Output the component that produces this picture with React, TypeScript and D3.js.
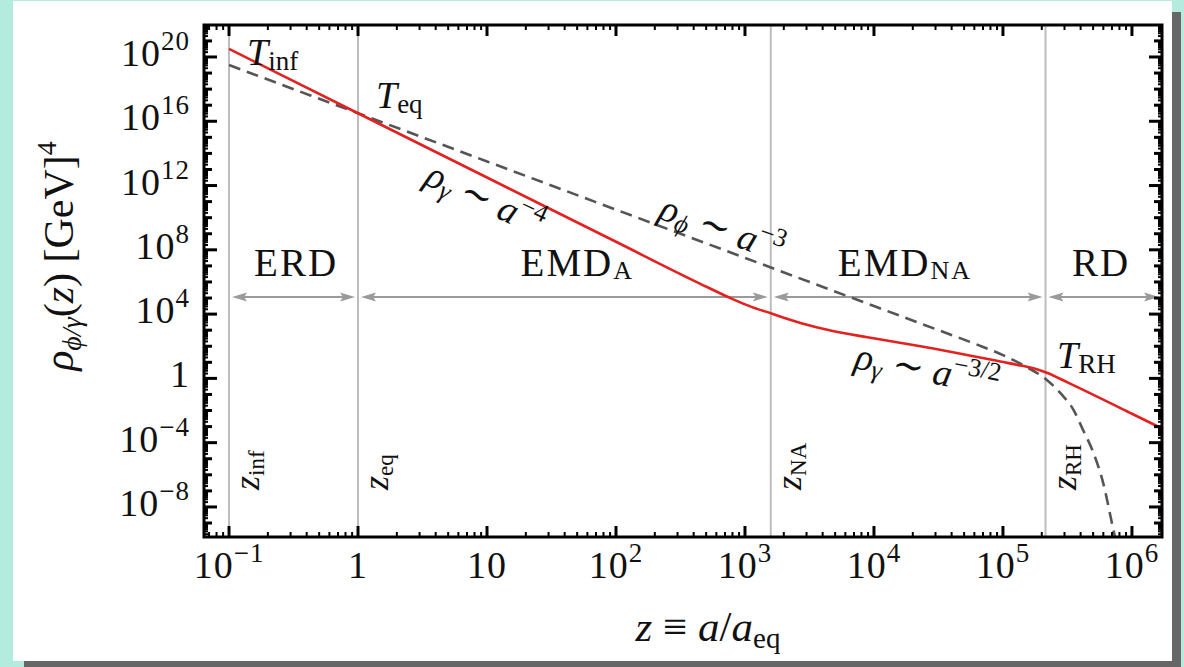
import { useEffect, useRef } from 'react';
import * as d3 from 'd3';

// axis ticks (z = a / a_eq on x, energy density on y)
const zTicks = [0.1, 1, 10, 100, 1000, 1e4, 1e5, 1e6];
const zTickLabels = [['10', '−1'], ['1', ''], ['10', ''], ['10', '2'], ['10', '3'], ['10', '4'], ['10', '5'], ['10', '6']];
const rhoTicks = [1e20, 1e16, 1e12, 1e8, 1e4, 1, 1e-4, 1e-8];
const rhoTickLabels = [['10', '20'], ['10', '16'], ['10', '12'], ['10', '8'], ['10', '4'], ['1', ''], ['10', '−4'], ['10', '−8']];

// radiation density rho_gamma, log10 values
const gammaLogZ = [-1, 0, 1, 2, 2.65, 2.9, 3.05, 3.2, 3.43, 3.68, 3.95, 4.2, 4.46, 4.72, 4.98, 5.15, 5.25, 5.34, 5.5, 6.0, 6.24];
const gammaLogRho = [20.5, 16.5, 12.5, 8.5, 5.9, 4.95, 4.45, 4.05, 3.45, 2.95, 2.56, 2.22, 1.86, 1.46, 1.05, 0.78, 0.6, 0.35, -0.25, -2.2, -3.15];

// inflaton density rho_phi (dashed)
const phiLogZ = [-1, 0, 1, 2, 3, 4, 4.5, 4.8, 5.0, 5.15, 5.34, 5.45, 5.55, 5.62, 5.7, 5.78, 5.85, 5.9];
const phiLogRho = [19.5, 16.5, 13.5, 10.5, 7.5, 4.5, 3.0, 2.1, 1.45, 0.85, -0.1, -0.95, -2.0, -3.2, -4.6, -6.6, -9.2, -11];

// epoch boundaries
const boundaryNames = ['inf', 'eq', 'NA', 'RH'];
const boundaryLogZ = [-1, 0, 3.2, 5.33];

// epoch labels
const epochNames = ['ERD', 'EMD', 'EMD', 'RD'];
const epochSubs = ['', 'A', 'NA', ''];
const epochLogZ = [-0.48, 1.7, 4.24, 5.76];

const FONT = '"Liberation Serif", "DejaVu Serif", serif';

const App = () => {
  const svgRef = useRef(null);

  useEffect(() => {
    const svg = d3.select(svgRef.current);
    svg.selectAll('*').remove();

    const L = 204, R = 1162, T = 25, B = 537;
    const x = d3.scaleLog().domain([10 ** -1.194, 10 ** 6.233]).range([L, R]);
    const y = d3.scaleLog().domain([10 ** -9.87, 10 ** 21.99]).range([B, T]);

    // background card + shadow
    svg.append('rect').attr('width', 1184).attr('height', 667).attr('fill', '#b3ecdf');
    svg.append('rect').attr('x', 24).attr('y', 12).attr('width', 1157).attr('height', 670).attr('fill', '#666');
    svg.append('rect').attr('x', 13).attr('y', 1).attr('width', 1159).attr('height', 660).attr('fill', '#fff');

    // rich text helper: parts = [text, size, italic, shift]
    const rich = (g, tx, ty, rot, anchor, parts, spacing = 0) => {
      const t = g.append('text')
        .attr('transform', `translate(${tx},${ty}) rotate(${rot})`)
        .attr('text-anchor', anchor)
        .attr('font-family', FONT)
        .attr('letter-spacing', spacing)
        .attr('fill', '#111');
      let cur = 0;
      parts.forEach(([s, size, it, shift]) => {
        if (!s) return;
        const sh = shift || 0;
        t.append('tspan')
          .attr('dy', sh - cur)
          .attr('font-size', size)
          .attr('font-style', it ? 'italic' : 'normal')
          .text(s);
        cur = sh;
      });
      return t;
    };

    const clipId = 'plot-clip';
    svg.append('defs').append('clipPath').attr('id', clipId)
      .append('rect').attr('x', L).attr('y', T).attr('width', R - L).attr('height', B - T);

    // boundary lines
    svg.append('g').selectAll('line').data(boundaryLogZ).join('line')
      .attr('x1', (d) => x(10 ** d)).attr('x2', (d) => x(10 ** d))
      .attr('y1', T).attr('y2', B)
      .attr('stroke', '#bdbdbd').attr('stroke-width', 2);

    // epoch arrows
    const arrowY = y(10 ** 5.07);
    const edges = [...boundaryLogZ.map((d) => x(10 ** d)), R];
    const ag = svg.append('g').attr('fill', '#9a9a9a').attr('stroke', '#9a9a9a');
    for (let i = 0; i < edges.length - 1; i++) {
      const a = edges[i] + 3, b = edges[i + 1] - 3;
      ag.append('line').attr('x1', a + 6).attr('x2', b - 6).attr('y1', arrowY).attr('y2', arrowY).attr('stroke-width', 2);
      ag.append('path').attr('stroke', 'none')
        .attr('d', `M${a},${arrowY} L${a + 15},${arrowY - 4.5} L${a + 12},${arrowY} L${a + 15},${arrowY + 4.5} Z`);
      ag.append('path').attr('stroke', 'none')
        .attr('d', `M${b},${arrowY} L${b - 15},${arrowY - 4.5} L${b - 12},${arrowY} L${b - 15},${arrowY + 4.5} Z`);
    }

    // epoch labels
    epochNames.forEach((n, i) => {
      rich(svg, x(10 ** epochLogZ[i]), 276, 0, 'middle', [[n, 39, false, 0], [epochSubs[i], 26, false, 3]], 2);
    });

    // curves
    const line = d3.line().x((d) => x(10 ** d[0])).y((d) => y(10 ** d[1])).curve(d3.curveMonotoneX);
    const cg = svg.append('g').attr('clip-path', `url(#${clipId})`).attr('fill', 'none');
    cg.append('path')
      .attr('d', line(phiLogZ.map((v, i) => [v, phiLogRho[i]])))
      .attr('stroke', '#555').attr('stroke-width', 2.6).attr('stroke-dasharray', '12 7');
    cg.append('path')
      .attr('d', line(gammaLogZ.map((v, i) => [v, gammaLogRho[i]])))
      .attr('stroke', '#e3221f').attr('stroke-width', 2.6);

    // frame + ticks
    svg.append('rect').attr('x', L).attr('y', T).attr('width', R - L).attr('height', B - T)
      .attr('fill', 'none').attr('stroke', '#000').attr('stroke-width', 3);
    const tg = svg.append('g').attr('stroke', '#000');
    for (let d = -2; d <= 6; d++) {
      for (let m = 1; m <= 9; m++) {
        const v = m * 10 ** d;
        const px = x(v);
        if (px < L + 1 || px > R - 1) continue;
        const len = m === 1 ? 11 : 5;
        const w = m === 1 ? 3 : 2;
        tg.append('line').attr('x1', px).attr('x2', px).attr('y1', B).attr('y2', B - len).attr('stroke-width', w);
        tg.append('line').attr('x1', px).attr('x2', px).attr('y1', T).attr('y2', T + len).attr('stroke-width', w);
      }
    }
    for (let d = -10; d <= 22; d++) {
      for (let m = 1; m <= 9; m++) {
        const v = m * 10 ** d;
        const py = y(v);
        if (py < T + 1 || py > B - 1) continue;
        const len = m === 1 ? (d % 4 === 0 ? 13 : 8) : 4;
        const w = m === 1 ? 3 : 2;
        tg.append('line').attr('y1', py).attr('y2', py).attr('x1', L).attr('x2', L + len).attr('stroke-width', w);
        tg.append('line').attr('y1', py).attr('y2', py).attr('x1', R).attr('x2', R - len).attr('stroke-width', w);
      }
    }

    // tick labels
    zTicks.forEach((v, i) => {
      rich(svg, x(v), 578, 0, 'middle', [[zTickLabels[i][0], 38, false, 0], [zTickLabels[i][1], 27, false, -16]], 1);
    });
    rhoTicks.forEach((v, i) => {
      rich(svg, 190, y(v) + 9, 0, 'end', [[rhoTickLabels[i][0], 38, false, 0], [rhoTickLabels[i][1], 27, false, -16]], 1);
    });

    // boundary labels (vertical)
    boundaryLogZ.forEach((d, i) => {
      rich(svg, x(10 ** d) + 30, 490, -90, 'start', [['z', 36, true, 0], [boundaryNames[i], 23, false, 5]]);
    });

    // temperature labels
    rich(svg, 247, 65, 0, 'start', [['T', 38, true, 0], ['inf', 27, false, 5]]);
    rich(svg, 376, 108, 0, 'start', [['T', 38, true, 0], ['eq', 27, false, 5]]);
    rich(svg, 1057, 368, 0, 'start', [['T', 38, true, 0], ['RH', 27, false, 5]]);

    // scaling labels
    rich(svg, 480, 210, 25, 'middle', [['ρ', 38, true, 0], ['γ', 26, true, 6], [' ∼ ', 38, false, 0], ['a', 38, true, 0], ['−4', 26, false, -15]]);
    rich(svg, 718, 240, 20, 'middle', [['ρ', 38, true, 0], ['ϕ', 26, true, 6], [' ∼ ', 38, false, 0], ['a', 38, true, 0], ['−3', 26, false, -15]]);
    rich(svg, 925, 382, 11, 'middle', [['ρ', 38, true, 0], ['γ', 26, true, 6], [' ∼ ', 38, false, 0], ['a', 38, true, 0], ['−3/2', 26, false, -15]]);

    // axis titles
    rich(svg, 708, 641, 0, 'middle', [['z', 43, true, 0], [' ≡ ', 43, false, 0], ['a', 43, true, 0], ['/', 43, false, 0], ['a', 43, true, 0], ['eq', 29, false, 7]]);
    rich(svg, 73, 256, -90, 'middle', [['ρ', 42, true, 0], ['ϕ/γ', 28, true, 8], ['(', 42, false, 0], ['z', 42, true, 0], [')', 42, false, 0], [' [GeV]', 42, false, 0], ['4', 28, false, -17]]);
  }, []);

  return (
    <div style={{ position: 'absolute', left: 0, top: 0 }}>
      <svg ref={svgRef} width={1184} height={667}></svg>
    </div>
  );
};

export default App;
